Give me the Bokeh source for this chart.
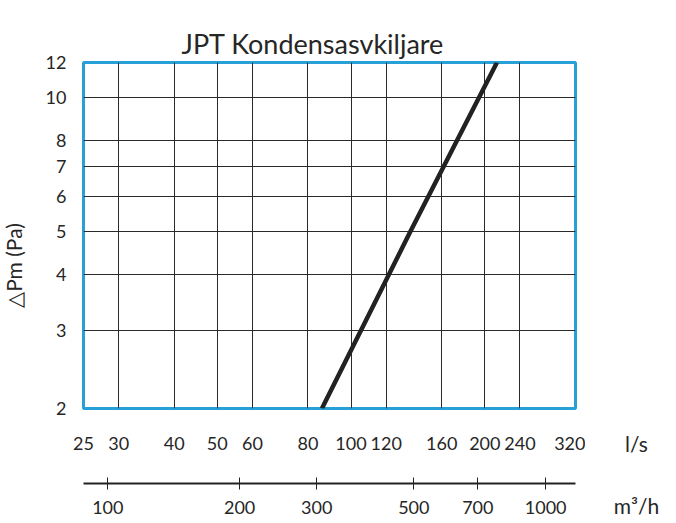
from bokeh.plotting import figure
from bokeh.models import (FixedTicker, LogAxis, LinearAxis, LogScale, Range1d,
                          NumeralTickFormatter, Title)
from bokeh.layouts import row
from bokeh.core.properties import value
from bokeh.embed import file_html
from bokeh.resources import INLINE
import math

# ---- data ----
ls_ticks = [25, 30, 40, 50, 60, 80, 100, 120, 160, 200, 240, 320]
pa_ticks = [2, 3, 4, 5, 6, 7, 8, 10, 12]
m3h_ticks = [100, 200, 300, 500, 700, 1000]

flow_ls = [86, 136, 213]      # l/s
dp_pa = [2, 5, 12]            # Pa

title_text = "JPT Kondensasvkiljare"
ylabel_text = "\u25b3Pm (Pa)"
x1_unit = "l/s"
x2_unit = "m\u00b3/h"

FONT = "Lato"
TXT = "#262626"
BLUE = "#27a0d8"
H = 523
TOP, BOTTOM = 62, 115
FH = H - TOP - BOTTOM
WL, WM = 42, 543
WR = 676 - WL - WM


def blank(width):
    f = figure(width=width, height=H, x_range=Range1d(0, width),
               y_range=Range1d(0, FH), output_backend="svg",
               toolbar_location=None, x_axis_location=None,
               y_axis_location=None, min_border=0,
               min_border_top=TOP, min_border_bottom=BOTTOM)
    f.outline_line_color = None
    f.grid.visible = False
    f.background_fill_color = "white"
    f.border_fill_color = "white"
    return f


# ---- main chart ----
p = figure(width=WM, height=H, x_axis_type="log", y_axis_type="log",
           x_range=Range1d(25, 320), y_range=Range1d(2, 12),
           output_backend="svg", toolbar_location=None,
           min_border_left=82 - WL, min_border_right=WM - (82 - WL) - 493,
           min_border_top=TOP, min_border_bottom=BOTTOM)

p.outline_line_color = BLUE
p.outline_line_width = 3
p.background_fill_color = "white"
p.border_fill_color = "white"

# invisible spacer between frame and title (pushes the title upward)
spacer = Title(text=".", text_alpha=0, text_font_size="10px", standoff=6)
p.add_layout(spacer, "above")

p.title.text = title_text
p.title.text_font = FONT
p.title.text_font_size = "27px"
p.title.text_font_style = "normal"
p.title.text_color = TXT
p.title.align = "left"
p.title.offset = 98
p.title.vertical_align = "top"
p.title.standoff = 2

# main x axis (l/s)
xa = p.xaxis[0]
xa.ticker = FixedTicker(ticks=ls_ticks)
xa.formatter = NumeralTickFormatter(format="0")
xa.axis_line_color = None
xa.major_tick_line_color = None
xa.minor_tick_line_color = None
xa.major_tick_in = 0
xa.major_tick_out = 0
xa.major_label_standoff = 28
xa.major_label_text_font = FONT
xa.major_label_text_font_size = "18px"
xa.major_label_text_color = TXT
xa.axis_label = " "
xa.axis_label_text_font_size = "12px"
xa.axis_label_standoff = 14

# y axis
ya = p.yaxis[0]
ya.ticker = FixedTicker(ticks=pa_ticks)
ya.formatter = NumeralTickFormatter(format="0")
ya.axis_line_color = None
ya.major_tick_line_color = None
ya.minor_tick_line_color = None
ya.major_tick_in = 0
ya.major_tick_out = 0
ya.major_label_standoff = 17
ya.major_label_text_font = FONT
ya.major_label_text_font_size = "18px"
ya.major_label_text_color = TXT

# grid
p.xgrid.grid_line_color = "#2a2a2a"
p.ygrid.grid_line_color = "#2a2a2a"
p.xgrid.grid_line_width = 1
p.ygrid.grid_line_width = 1

# secondary x axis (m3/h)
p.extra_x_ranges = {"m3h": Range1d(88, 1170)}
p.extra_x_scales = {"m3h": LogScale()}
xa2 = LogAxis(x_range_name="m3h", ticker=FixedTicker(ticks=m3h_ticks),
              formatter=NumeralTickFormatter(format="0"))
xa2.axis_line_color = "#222222"
xa2.axis_line_width = 2
xa2.major_tick_line_color = "#222222"
xa2.major_tick_line_width = 1
xa2.major_tick_in = 6
xa2.major_tick_out = 6
xa2.minor_tick_line_color = None
xa2.major_label_standoff = 11
xa2.major_label_text_font = FONT
xa2.major_label_text_font_size = "18px"
xa2.major_label_text_color = TXT
p.add_layout(xa2, "below")

# curve
p.line(flow_ls, dp_pa, line_width=4.5, line_color="#222222")

# ---- left strip: y-axis title ----
pl = blank(WL)
pl.text(x=[13], y=[408 - 265], text=[ylabel_text], angle=math.pi / 2,
        text_font=value(FONT), text_font_size=value("21px"),
        text_color=TXT, text_align="center", text_baseline="middle")

# ---- right strip: unit labels as axis titles ----
pr = blank(WR)
pr.min_border_left = 11
for lab, stand in ((x1_unit, 22), (x2_unit, 34)):
    ax = LinearAxis(ticker=FixedTicker(ticks=[]), axis_label=lab)
    ax.axis_line_color = None
    ax.major_tick_line_color = None
    ax.minor_tick_line_color = None
    ax.major_tick_in = 0
    ax.major_tick_out = 0
    ax.major_label_text_font_size = "0px"
    ax.major_label_standoff = 0
    ax.axis_label_standoff = stand
    ax.axis_label_text_font = FONT
    ax.axis_label_text_font_size = "21px"
    ax.axis_label_text_font_style = "normal"
    ax.axis_label_text_color = TXT
    pr.add_layout(ax, "below")

layout = row(pl, p, pr, spacing=0)
open("out.html", "w").write(file_html(layout, INLINE))
